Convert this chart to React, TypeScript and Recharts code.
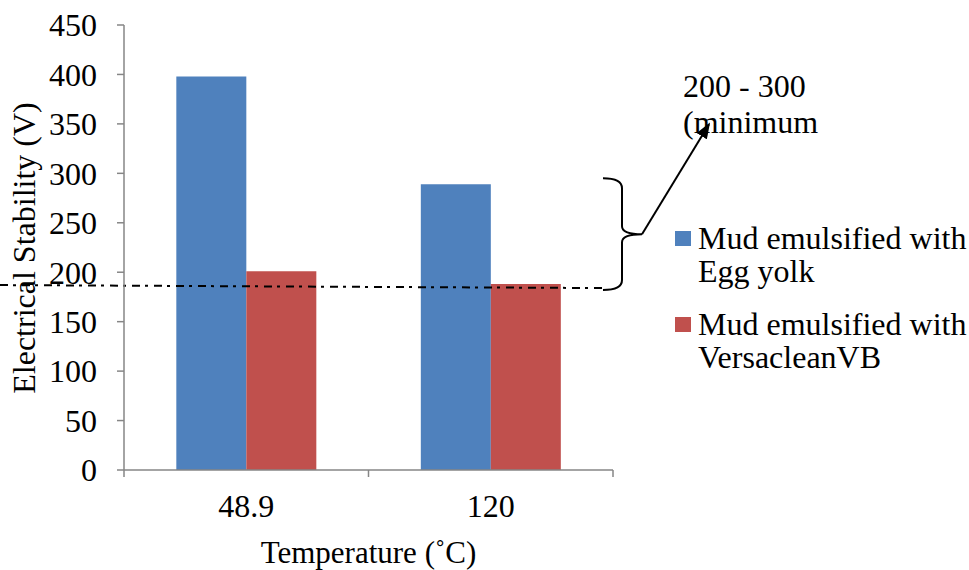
import React from 'react'
import { BarChart, Bar, XAxis, YAxis, ReferenceLine, ReferenceArea } from 'recharts'

const categories = ['48.9', '120']
const eggYolk = [398, 289]
const versaclean = [201, 188]
const yTicks = [0, 50, 100, 150, 200, 250, 300, 350, 400, 450]
const seriesNames = ['Mud emulsified with Egg yolk', 'Mud emulsified with VersacleanVB']
const legendLines = [
  ['Mud emulsified with', 'Egg yolk'],
  ['Mud emulsified with', 'VersacleanVB'],
]
const minLine = 186
const bracketRange = [182, 295]
const noteLines = ['200 - 300', '(minimum']

const COLORS = ['#4F81BD', '#C0504D']
const AXIS = '#868686'
const FONT = '"Liberation Serif", "Times New Roman", serif'
const FS = 32

const data = categories.map((c, i) => ({ temp: c, egg: eggYolk[i], vb: versaclean[i] }))

// category labels in the middle, tick marks on the band edges
const XTick = (props: any) => {
  const { x, y, payload, index, visibleTicksCount } = props
  const half = payload?.offset ?? 0
  const axisY = y - 7
  const last = index === visibleTicksCount - 1
  return (
    <g>
      <line x1={x - half} x2={x - half} y1={axisY} y2={axisY + 7} stroke={AXIS} strokeWidth={1.5} />
      {last && <line x1={x + half} x2={x + half} y1={axisY} y2={axisY + 7} stroke={AXIS} strokeWidth={1.5} />}
      <text x={x} y={axisY + 47} textAnchor="middle" fontSize={FS} fontFamily={FONT} fill="#000">
        {payload.value}
      </text>
    </g>
  )
}

const DashLine = (props: any) => {
  const { x1, x2, y1 } = props
  return (
    <line x1={x1 - 124} x2={x2 - 10} y1={y1 - 1} y2={y1 + 2} stroke="#000" strokeWidth={2} strokeDasharray="8 5 3 6" />
  )
}

const Bracket = (props: any) => {
  const { x, y, width, height } = props
  const right = x + width
  const x0 = right - 10
  const x1 = right + 9
  const x2 = right + 29
  const top = y
  const bot = y + height
  const mid = (top + bot) / 2
  const d = `M ${x0} ${top} Q ${x1} ${top} ${x1} ${top + 10} L ${x1} ${mid - 8} Q ${x1} ${mid} ${x2} ${mid} Q ${x1} ${mid} ${x1} ${mid + 8} L ${x1} ${bot - 10} Q ${x1} ${bot} ${x0} ${bot}`
  const tipX = right + 96
  const tipY = top - 54
  return (
    <g>
      <defs>
        <marker id="arrowHead" markerWidth="8" markerHeight="6" refX="7" refY="3" orient="auto" markerUnits="strokeWidth">
          <path d="M0,0 L8,3 L0,6 z" fill="#000" />
        </marker>
      </defs>
      <path d={d} fill="none" stroke="#000" strokeWidth={2} />
      <line x1={x2} y1={mid} x2={tipX} y2={tipY} stroke="#000" strokeWidth={2} markerEnd="url(#arrowHead)" />
      {noteLines.map((t, i) => (
        <text key={t} x={right + 70} y={top - 81 + i * 36} fontSize={FS} fontFamily={FONT} fill="#000">
          {t}
        </text>
      ))}
    </g>
  )
}

export default function App() {
  return (
    <div style={{ position: 'absolute', left: 0, top: 0, width: 969, height: 570, background: '#fff' }}>
      <BarChart
        width={969}
        height={570}
        data={data}
        margin={{ top: 25, right: 356, bottom: 0, left: 0 }}
        barCategoryGap="21.4%"
        barGap={0}
      >
        <XAxis
          dataKey="temp"
          height={100}
          axisLine={{ stroke: AXIS, strokeWidth: 1.5 }}
          tickLine={false}
          tickSize={7}
          tickMargin={0}
          tick={<XTick />}
          label={{
            content: (p: any) => {
              const vb = p.viewBox
              return (
                <text x={vb.x + vb.width / 2} y={vb.y + 93} textAnchor="middle" fontSize={31} fontFamily={FONT} fill="#000">
                  Temperature (˚C)
                </text>
              )
            },
          }}
        />
        <YAxis
          width={124}
          domain={[0, 450]}
          ticks={yTicks}
          interval={0}
          axisLine={{ stroke: AXIS, strokeWidth: 1.5 }}
          tickLine={{ stroke: AXIS, strokeWidth: 1.5 }}
          tickSize={7}
          tickMargin={20}
          tick={{ fontSize: FS, fontFamily: FONT, fill: '#000' }}
          label={{
            content: () => (
              <text transform="translate(35, 248) rotate(-90)" textAnchor="middle" fontSize={FS} fontFamily={FONT} fill="#000">
                Electrical Stability (V)
              </text>
            ),
          }}
        />
        <Bar dataKey="egg" name={seriesNames[0]} fill={COLORS[0]} isAnimationActive={false} />
        <Bar dataKey="vb" name={seriesNames[1]} fill={COLORS[1]} isAnimationActive={false} />
        <ReferenceLine y={minLine} shape={<DashLine />} ifOverflow="visible" />
        <ReferenceArea y1={bracketRange[0]} y2={bracketRange[1]} shape={<Bracket />} ifOverflow="visible" />
      </BarChart>
      <svg width={969} height={570} style={{ position: 'absolute', left: 0, top: 0, pointerEvents: 'none' }}>
        {legendLines.map((lines, i) => (
          <g key={seriesNames[i]}>
            <rect x={675} y={231 + i * 86} width={16} height={15} fill={COLORS[i]} />
            {lines.map((t, j) => (
              <text key={t} x={698} y={249 + i * 86 + j * 33} fontSize={FS} fontFamily={FONT} fill="#000">
                {t}
              </text>
            ))}
          </g>
        ))}
      </svg>
    </div>
  )
}
